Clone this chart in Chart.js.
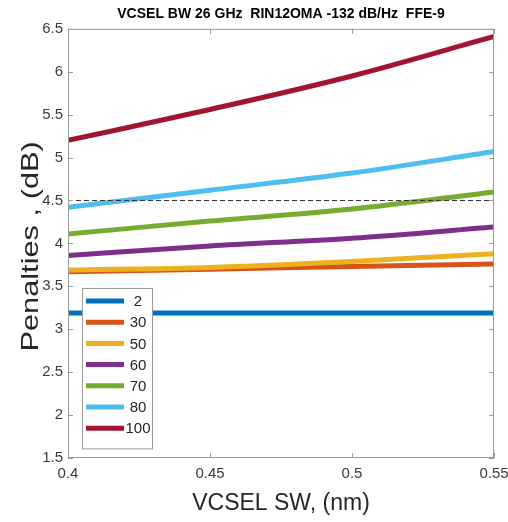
<!DOCTYPE html>
<html>
<head>
<meta charset="utf-8">
<script src="https://cdn.jsdelivr.net/npm/chart.js@4.4.1/dist/chart.umd.min.js"></script>
<style>
  html, body { margin: 0; padding: 0; background: #fff; }
  #wrap { width: 508px; height: 522px; }
</style>
</head>
<body>
<div id="wrap"><canvas id="penaltyChart" width="508" height="522"></canvas></div>
<script>
// VCSEL spectral width sweep (nm)
const swValues = [0.4, 0.45, 0.5, 0.55];
const xTickValues = [0.4, 0.45, 0.5, 0.55];
const yTickValues = [1.5, 2, 2.5, 3, 3.5, 4, 4.5, 5, 5.5, 6, 6.5];

// penalties (dB) for each legend entry
const seriesLabels = ["2", "30", "50", "60", "70", "80", "100"];
const pen2 = [3.19, 3.19, 3.19, 3.19];
const pen30 = [3.67, 3.70, 3.73, 3.76];
const pen50 = [3.69, 3.72, 3.79, 3.88];
const pen60 = [3.86, 3.97, 4.06, 4.19];
const pen70 = [4.11, 4.26, 4.40, 4.60];
const pen80 = [4.42, 4.62, 4.82, 5.07];
const pen100 = [5.20, 5.56, 5.95, 6.41];
const penaltyLimit = 4.5;

const seriesValues = [pen2, pen30, pen50, pen60, pen70, pen80, pen100];
const seriesColors = ["#0072BD", "#D95319", "#EDB120", "#7E2F8E", "#77AC30", "#4DBEEE", "#A2142F"];

const FONT = "'Liberation Sans', Arial, sans-serif";
const yTitle = "Penalties , (dB)";

const datasets = seriesValues.map((vals, i) => ({
  label: seriesLabels[i],
  data: vals.map((v, j) => ({ x: swValues[j], y: v })),
  borderColor: seriesColors[i],
  backgroundColor: seriesColors[i],
  borderWidth: 5,
  pointRadius: 0,
  cubicInterpolationMode: "monotone",
  order: seriesValues.length - i,
}));

// reference level, dashed
datasets.push({
  label: "limit",
  data: [{ x: swValues[0], y: penaltyLimit }, { x: swValues[swValues.length - 1], y: penaltyLimit }],
  borderColor: "#333",
  borderWidth: 1,
  borderDash: [5, 3],
  pointRadius: 0,
  order: 0,
  inLegend: false,
});

// box round the plot with inward ticks on all four sides
const frameTicks = {
  id: "frameTicks",
  afterDatasetsDraw(chart) {
    const { ctx, chartArea: a, scales } = chart;
    ctx.save();
    ctx.strokeStyle = "#9a9a9a";
    ctx.lineWidth = 1;
    ctx.strokeRect(a.left + 0.5, a.top + 0.5, a.right - a.left - 1, a.bottom - a.top - 1);
    ctx.beginPath();
    xTickValues.forEach((v) => {
      const px = Math.round(scales.x.getPixelForValue(v)) + 0.5;
      ctx.moveTo(px, a.bottom); ctx.lineTo(px, a.bottom - 5);
      ctx.moveTo(px, a.top); ctx.lineTo(px, a.top + 5);
    });
    yTickValues.forEach((v) => {
      const py = Math.round(scales.y.getPixelForValue(v)) + 0.5;
      ctx.moveTo(a.left, py); ctx.lineTo(a.left + 5, py);
      ctx.moveTo(a.right, py); ctx.lineTo(a.right - 5, py);
    });
    ctx.stroke();
    ctx.restore();
  },
};

// y axis title, drawn a little taller than the font's natural shape
const yAxisTitle = {
  id: "yAxisTitle",
  afterDraw(chart) {
    const { ctx, chartArea: a } = chart;
    ctx.save();
    ctx.translate(31, (a.top + a.bottom) / 2 + 3);
    ctx.rotate(-Math.PI / 2);
    ctx.scale(1.14, 0.9);
    ctx.font = "27px " + FONT;
    ctx.fillStyle = "#262626";
    ctx.textAlign = "center";
    ctx.textBaseline = "middle";
    ctx.fillText(yTitle, 0, 0);
    ctx.restore();
  },
};

// legend box inside the axes, lower left
const innerLegend = {
  id: "innerLegend",
  afterDraw(chart) {
    const { ctx } = chart;
    const sets = chart.data.datasets.filter((d) => d.inLegend !== false);
    const left = 82, top = 288, w = 70, rowH = 21.2;
    const h = sets.length * rowH + 12;
    ctx.save();
    ctx.fillStyle = "#fff";
    ctx.fillRect(left, top, w, h);
    ctx.strokeStyle = "#9a9a9a";
    ctx.lineWidth = 1;
    ctx.strokeRect(left + 0.5, top + 0.5, w, h);
    ctx.font = "15px " + FONT;
    ctx.textAlign = "center";
    ctx.textBaseline = "middle";
    sets.forEach((d, i) => {
      const y = top + 13 + i * rowH;
      ctx.strokeStyle = d.borderColor;
      ctx.lineWidth = 5;
      ctx.beginPath();
      ctx.moveTo(left + 4, y); ctx.lineTo(left + 42, y);
      ctx.stroke();
      ctx.fillStyle = "#262626";
      ctx.fillText(d.label, left + 56, y + 1);
    });
    ctx.restore();
  },
};

new Chart(document.getElementById("penaltyChart"), {
  type: "line",
  data: { datasets },
  plugins: [frameTicks, yAxisTitle, innerLegend],
  options: {
    responsive: false,
    animation: false,
    layout: { padding: { left: 0, right: 14, top: 0, bottom: 0 } },
    plugins: {
      legend: { display: false },
      tooltip: { enabled: false },
      title: {
        display: true,
        fullSize: false,
        text: "VCSEL BW 26 GHz  RIN12OMA -132 dB/Hz  FFE-9",
        color: "#000",
        font: { family: FONT, size: 14, weight: "bold" },
        padding: { top: 6, bottom: 6 },
      },
    },
    scales: {
      x: {
        type: "linear",
        min: 0.4,
        max: 0.55,
        afterBuildTicks: (s) => { s.ticks = xTickValues.map((v) => ({ value: v })); },
        afterFit: (s) => { s.height = 64; s.paddingLeft = 0; s.paddingRight = 0; },
        grid: { display: false, drawTicks: false },
        border: { display: false },
        ticks: {
          color: "#3a3a3a",
          font: { family: FONT, size: 15 },
          padding: 7,
          maxRotation: 0,
          callback: (v) => String(+v.toFixed(2)),
        },
        title: {
          display: true,
          text: "VCSEL SW, (nm)",
          color: "#262626",
          font: { family: FONT, size: 23 },
          padding: { top: 0, bottom: 5 },
        },
      },
      y: {
        min: 1.5,
        max: 6.5,
        afterBuildTicks: (s) => { s.ticks = yTickValues.map((v) => ({ value: v })); },
        afterFit: (s) => { s.width = 68; s.paddingTop = 0; s.paddingBottom = 0; },
        grid: { display: false, drawTicks: false },
        border: { display: false },
        ticks: {
          color: "#3a3a3a",
          font: { family: FONT, size: 15 },
          padding: 5,
          callback: (v) => String(v),
        },
      },
    },
  },
});
</script>
</body>
</html>
